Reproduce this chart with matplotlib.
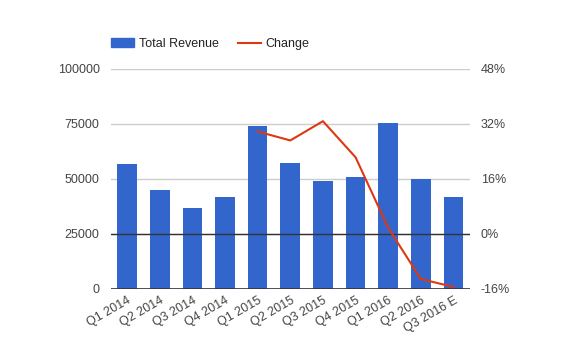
import matplotlib.pyplot as plt
from matplotlib.patches import Patch
from matplotlib.lines import Line2D

quarters = ["Q1 2014", "Q2 2014", "Q3 2014", "Q4 2014", "Q1 2015", "Q2 2015",
            "Q3 2015", "Q4 2015", "Q1 2016", "Q2 2016", "Q3 2016 E"]
revenue = [57000, 45000, 36800, 41700, 74100, 57300, 49100, 50900, 75500, 50000, 41700]
change_idx = [4, 5, 6, 7, 8, 9, 10]
change = [29.8, 27.2, 32.8, 22.3, 1.8, -13.1, -15.4]

BLUE = "#3366cc"
RED = "#dc3912"
TXT = "#444444"

plt.rcParams['font.family'] = ['Liberation Sans', 'DejaVu Sans']

fig = plt.figure(figsize=(5.8, 3.59), dpi=100)
ax = fig.add_axes([0.191, 0.195, 0.619, 0.613])
ax2 = ax.twinx()

x = list(range(len(quarters)))
ax.bar(x, revenue, width=0.6, color=BLUE, zorder=2)
ax.set_ylim(0, 100000)
ax.set_yticks([0, 25000, 50000, 75000, 100000])
ax.set_xlim(-0.5, len(quarters) - 0.5)
ax.grid(axis='y', color="#cccccc", linewidth=1, zorder=0)
ax.axhline(25000, color="#333333", linewidth=1, zorder=3)
ax.axhline(0, color="#333333", linewidth=1.2, zorder=3)
ax.set_xticks(x)
ax.set_xticklabels(quarters, rotation=30, ha='right', rotation_mode='anchor')

ax2.plot(change_idx, change, color=RED, linewidth=1.5, zorder=4)
ax2.set_ylim(-16, 48)
ax2.set_yticks([-16, 0, 16, 32, 48])
ax2.set_yticklabels(["-16%", "0%", "16%", "32%", "48%"])

for a in (ax, ax2):
    for s in a.spines.values():
        s.set_visible(False)
    a.tick_params(length=0, colors=TXT, labelsize=9)
ax.tick_params(axis='y', pad=8)
ax2.tick_params(axis='y', pad=8)
ax.tick_params(axis='x', pad=4)

handles = [Patch(color=BLUE), Line2D([0], [0], color=RED, linewidth=1.5)]
fig.legend(handles, ["Total Revenue", "Change"], loc='center left',
           bbox_to_anchor=(0.191, 0.877), ncol=2, frameon=False, fontsize=9,
           handlelength=1.85, handleheight=0.7, handletextpad=0.4,
           columnspacing=1.5, borderpad=0, borderaxespad=0,
           labelcolor="#222222")

fig.savefig("out.png", dpi=100)
